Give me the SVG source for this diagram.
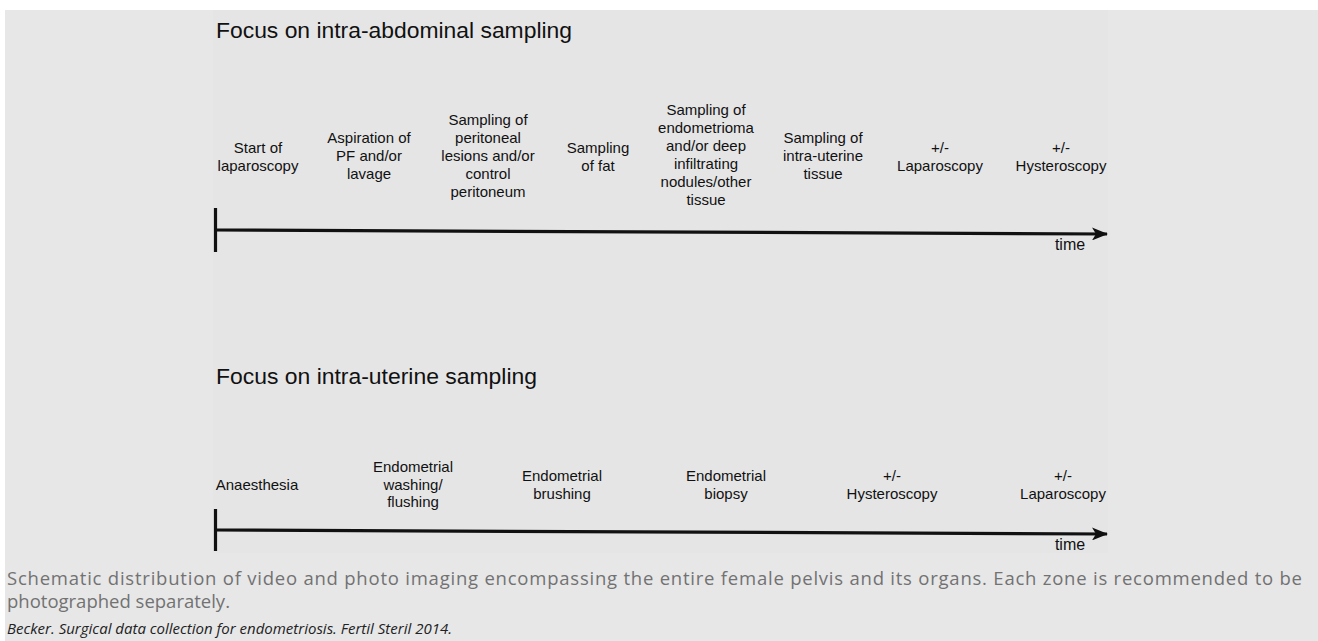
<svg xmlns="http://www.w3.org/2000/svg" width="1318" height="641" viewBox="0 0 1318 641">
<style>
  .title { font-family: "Liberation Sans", Arial, sans-serif; font-size: 22px; fill: #111; }
  .lbl { font-family: "Liberation Sans", Arial, sans-serif; font-size: 15px; fill: #111; text-anchor: middle; }
  .time { font-family: "Liberation Sans", Arial, sans-serif; font-size: 16px; fill: #111; text-anchor: middle; }
  .axis { stroke: #111; stroke-width: 3.2; fill: none; }
  .cap { font-family: "Open Sans", "Noto Sans", sans-serif; font-size: 18.5px; fill: #727272; }
  .ref { font-family: "Open Sans", "Noto Sans", sans-serif; font-size: 15px; font-style: italic; fill: #222; }
</style>
<defs>
  <marker id="arrow" markerUnits="userSpaceOnUse" viewBox="0 0 16 13" markerWidth="16" markerHeight="13" refX="15" refY="6.5" orient="auto">
    <path d="M0,0 L16,6.5 L0,13 L4,6.5 Z" fill="#111"/>
  </marker>
</defs>
<rect x="0" y="0" width="1318" height="641" fill="#ffffff"/>
<rect x="5" y="10" width="1313" height="631" fill="#e7e7e8"/>
<rect x="213" y="10" width="895" height="543" fill="#e5e5e6"/>

<text id="title1" class="title" x="216" y="37.5" textLength="356" lengthAdjust="spacingAndGlyphs">Focus on intra-abdominal sampling</text>

<g id="a1"><text class="lbl"><tspan x="258" y="153">Start of</tspan><tspan x="258" y="171">laparoscopy</tspan></text></g>
<g id="a2"><text class="lbl"><tspan x="369" y="143">Aspiration of</tspan><tspan x="369" y="161">PF and/or</tspan><tspan x="369" y="179">lavage</tspan></text></g>
<g id="a3"><text class="lbl"><tspan x="488" y="125">Sampling of</tspan><tspan x="488" y="143">peritoneal</tspan><tspan x="488" y="161">lesions and/or</tspan><tspan x="488" y="179">control</tspan><tspan x="488" y="197">peritoneum</tspan></text></g>
<g id="a4"><text class="lbl"><tspan x="598" y="153">Sampling</tspan><tspan x="598" y="171">of fat</tspan></text></g>
<g id="a5"><text class="lbl"><tspan x="706" y="115">Sampling of</tspan><tspan x="706" y="133">endometrioma</tspan><tspan x="706" y="151">and/or deep</tspan><tspan x="706" y="169">infiltrating</tspan><tspan x="706" y="187">nodules/other</tspan><tspan x="706" y="205">tissue</tspan></text></g>
<g id="a6"><text class="lbl"><tspan x="823" y="143">Sampling of</tspan><tspan x="823" y="161">intra-uterine</tspan><tspan x="823" y="179">tissue</tspan></text></g>
<g id="a7"><text class="lbl"><tspan x="940" y="153">+/-</tspan><tspan x="940" y="171">Laparoscopy</tspan></text></g>
<g id="a8"><text class="lbl"><tspan x="1061" y="153">+/-</tspan><tspan x="1061" y="171">Hysteroscopy</tspan></text></g>

<text id="title2" class="title" x="216" y="383.5" textLength="321" lengthAdjust="spacingAndGlyphs">Focus on intra-uterine sampling</text>

<g id="b1"><text class="lbl"><tspan x="257" y="490">Anaesthesia</tspan></text></g>
<g id="b2"><text class="lbl"><tspan x="413" y="472">Endometrial</tspan><tspan x="413" y="489.5">washing/</tspan><tspan x="413" y="507">flushing</tspan></text></g>
<g id="b3"><text class="lbl"><tspan x="562" y="481">Endometrial</tspan><tspan x="562" y="498.5">brushing</tspan></text></g>
<g id="b4"><text class="lbl"><tspan x="726" y="481">Endometrial</tspan><tspan x="726" y="498.5">biopsy</tspan></text></g>
<g id="b5"><text class="lbl"><tspan x="892" y="481">+/-</tspan><tspan x="892" y="498.5">Hysteroscopy</tspan></text></g>
<g id="b6"><text class="lbl"><tspan x="1063" y="481">+/-</tspan><tspan x="1063" y="498.5">Laparoscopy</tspan></text></g>

<g id="connectors">
  <line class="axis" x1="215.5" y1="208" x2="215.5" y2="252"/>
  <line class="axis" x1="215" y1="230" x2="1107" y2="234" marker-end="url(#arrow)"/>
  <line class="axis" x1="215.5" y1="509" x2="215.5" y2="551"/>
  <line class="axis" x1="215" y1="530" x2="1107" y2="534" marker-end="url(#arrow)"/>
</g>
<text id="time1" class="time" x="1070" y="250">time</text>
<text id="time2" class="time" x="1070" y="550">time</text>

<g id="caption">
  <text class="cap" x="7" y="585" textLength="1295" lengthAdjust="spacing">Schematic distribution of video and photo imaging encompassing the entire female pelvis and its organs. Each zone is recommended to be</text>
  <text class="cap" x="7" y="608">photographed separately.</text>
  <text class="ref" x="7" y="634">Becker. Surgical data collection for endometriosis. Fertil Steril 2014.</text>
</g>
</svg>
